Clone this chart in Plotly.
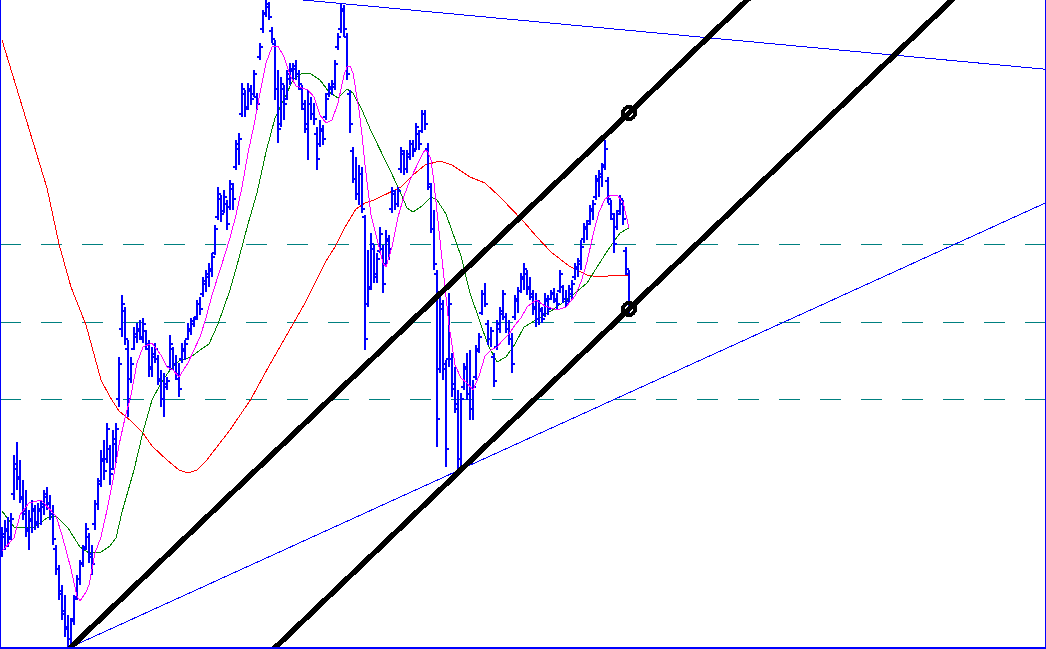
import plotly.graph_objects as go

# ---- OHLC data (bar index 0..209) ----
high = [122,129,132,136,194,207,189,169,159,139,
        149,144,146,149,159,162,154,144,104,84,
        64,54,34,31,54,74,89,104,126,116,
        104,149,171,199,209,226,204,219,226,292,
        354,342,309,292,322,326,329,331,319,309,
        302,306,294,279,276,272,314,302,294,286,
        306,309,326,331,332,349,352,372,379,386,
        396,424,462,454,459,449,469,466,509,516,
        566,559,566,564,579,556,606,639,649,647,
        622,609,579,572,564,579,586,586,589,579,
        564,549,559,552,546,522,529,524,556,566,
        569,589,616,645,644,616,559,502,492,484,
        482,434,399,416,404,396,422,404,419,414,
        462,459,462,502,499,499,509,509,526,519,
        539,539,506,466,439,379,356,349,289,356,
        296,282,259,256,286,296,299,269,304,316,
        359,366,329,322,296,329,342,359,336,329,
        316,354,362,376,386,379,372,359,356,349,
        342,356,354,359,361,356,379,364,359,364,
        369,386,391,409,426,429,444,449,474,479,
        486,509,472,449,436,439,454,449,402,379]
low = [92,99,102,109,149,159,146,129,112,99,
       116,119,121,124,134,139,129,104,74,49,
       29,12,2,2,24,49,64,82,99,86,
       74,119,139,162,169,186,164,179,186,242,
       312,304,232,266,299,306,309,306,299,272,
       272,286,264,242,232,259,279,279,269,252,
       286,289,309,314,322,329,334,352,357,362,
       372,394,429,427,436,419,439,439,479,484,
       532,532,539,544,552,539,589,616,632,629,
       606,549,506,522,529,549,564,569,569,559,
       539,516,489,529,524,479,502,504,529,552,
       554,559,599,616,612,569,516,466,449,444,
       436,299,342,359,366,366,396,356,382,389,
       436,439,442,476,474,476,489,492,499,499,
       516,519,459,416,379,202,276,269,182,282,
       252,236,179,182,259,249,229,229,269,296,
       334,342,304,302,262,299,316,329,316,304,
       276,329,336,356,359,354,349,334,322,324,
       326,332,334,349,346,339,356,346,342,346,
       349,369,372,379,406,409,424,429,449,452,
       462,479,446,429,396,419,434,424,374,332]
open_ = [100,112,118,112,155,180,172,150,138,118,
         128,138,127,138,142,152,146,135,100,80,
         58,38,22,10,30,52,70,86,102,112,
         92,125,145,168,188,190,200,180,205,250,
         320,338,300,270,300,312,318,310,318,300,
         282,292,290,268,250,262,282,300,285,270,
         290,298,310,318,325,332,345,355,365,372,
         378,396,432,450,438,445,442,460,482,500,
         535,555,542,558,555,552,592,620,636,642,
         618,605,560,525,560,550,570,578,580,575,
         560,540,520,545,535,515,505,518,532,555,
         560,562,602,620,638,612,555,498,470,455,
         475,432,345,362,400,372,398,400,385,408,
         440,455,445,480,495,480,492,505,500,515,
         518,535,500,462,420,375,280,340,280,290,
         290,265,245,190,262,282,255,240,272,300,
         336,355,325,310,292,302,320,335,332,320,
         310,332,348,358,370,375,362,352,342,330,
         338,335,348,350,355,348,358,362,350,348,
         355,372,380,385,410,420,428,438,452,468,
         472,484,468,445,430,422,438,445,398,375]
close = [115,120,110,130,185,170,152,135,120,130,
         140,125,140,145,155,145,135,110,80,55,
         35,20,10,28,50,70,85,100,120,95,
         85,145,165,190,178,220,175,210,220,285,
         345,310,250,285,315,320,312,325,305,280,
         295,300,270,250,265,268,305,285,275,260,
         300,305,320,328,330,345,340,368,375,380,
         392,420,455,435,452,425,465,450,505,510,
         560,540,560,550,575,545,602,635,645,632,
         610,560,520,565,545,575,580,583,575,565,
         545,525,545,535,530,490,520,510,550,562,
         565,585,612,640,620,575,525,470,455,475,
         440,310,360,405,375,390,415,365,410,400,
         458,445,458,498,480,495,505,498,522,505,
         535,525,465,420,385,230,345,285,200,345,
         260,240,190,250,280,255,240,262,298,312,
         355,345,310,318,268,325,338,355,320,310,
         285,350,358,372,380,360,355,340,330,340,
         330,350,340,356,350,345,375,350,345,360,
         365,382,388,402,422,425,440,445,470,475,
         482,500,450,435,405,435,450,430,380,340]

# ---- moving averages (read at sample bars) ----
ma_fast_x = [0,4,6,9,13,16,18,20,23,25,26,28,29,31,33,35,37,39,41,43,45,47,50,53,55,57,59,62,64,66,68,70,73,76,78,80,82,84,86,88,90,92,94,96,98,100,102,104,106,108,110,112,114,115,116,117,119,120,121,123,125,127,128,130,132,134,136,138,140,141,142,143,144,146,147,149,151,153,155,157,159,161,163,165,167,169,171,173,175,178,181,185,188,191,193,195,197,199,201,203,205,207,208,209]
ma_fast_y = [98,111,134,146,149,139,133,114,80,53,48,57,64,96,112,139,169,204,231,254,286,302,306,294,282,279,272,286,299,312,331,354,382,411,434,462,496,524,556,586,602,603,592,574,563,561,559,552,534,526,529,546,574,582,583,576,539,514,484,434,409,386,382,402,432,453,469,482,494,499,497,489,466,409,381,324,284,271,266,259,273,293,299,302,309,315,324,331,342,349,343,339,342,353,367,387,414,437,450,454,454,447,434,421]
ma_mid_x = [0,4,7,11,15,18,22,26,29,33,36,38,40,44,47,50,53,56,59,63,66,69,72,76,79,82,85,88,91,94,97,100,103,106,109,112,115,117,120,123,126,129,132,135,137,140,143,145,148,151,153,156,159,162,165,168,171,174,178,183,189,195,199,202,206,209]
ma_mid_y = [138,122,122,122,131,133,121,102,96,97,103,111,137,179,217,249,266,279,288,292,299,305,325,359,391,425,456,497,531,550,569,576,575,569,557,551,560,556,539,518,500,481,462,441,437,443,452,449,435,411,393,356,331,304,287,292,305,322,329,338,351,366,385,399,416,421]
ma_slow_x = [0,3,7,11,15,19,23,28,33,36,39,43,47,50,55,59,62,65,68,76,83,89,96,101,104,108,111,114,118,121,124,128,133,137,141,146,150,156,161,166,170,174,178,183,189,195,199,205,209]
ma_slow_y = [609,579,539,499,461,405,362,324,269,252,238,228,216,203,189,179,176,179,188,219,250,283,319,346,364,388,402,420,440,446,449,455,462,474,484,488,484,472,466,452,440,427,413,397,383,374,372,374,374]

# ---- trend lines (anchor points: bar, price) ----
channel_anchor_a = (23, 2)
channel_anchor_b = (209, 536)
channel_parallel_point = (209, 340)
support_anchors = [(23, 2), (151, 177)]
resistance_anchors = [(88, 652.5), (113, 645.5)]
levels = [405, 327, 250]

BLUE = "#0000ff"
fig = go.Figure()

for lv in levels:
    fig.add_shape(type="line", xref="paper", yref="y", x0=0, x1=1, y0=lv, y1=lv,
                  line=dict(color="#008080", width=1, dash="21px,20px"), layer="below")

def line_through(p, slope, xs=(-5, 360)):
    return list(xs), [p[1] + slope * (x - p[0]) for x in xs]

# moving averages
fig.add_trace(go.Scatter(x=ma_slow_x, y=ma_slow_y, mode="lines", line=dict(color="#ff0000", width=1)))
fig.add_trace(go.Scatter(x=ma_mid_x, y=ma_mid_y, mode="lines", line=dict(color="#008000", width=1)))

# OHLC bars
bx, by = [], []
for i, (o, h, l, c) in enumerate(zip(open_, high, low, close)):
    bx += [i, i, None, i - 1.0, i, None, i, i + 1.0, None]
    by += [l, h, None, o, o, None, c, c, None]
fig.add_trace(go.Scatter(x=bx, y=by, mode="lines", line=dict(color=BLUE, width=2)))

fig.add_trace(go.Scatter(x=ma_fast_x, y=ma_fast_y, mode="lines", line=dict(color="#ff00ff", width=1)))

# support / resistance thin blue lines
s_slope = (support_anchors[1][1] - support_anchors[0][1]) / (support_anchors[1][0] - support_anchors[0][0])
x_, y_ = line_through(support_anchors[0], s_slope)
fig.add_trace(go.Scatter(x=x_, y=y_, mode="lines", line=dict(color=BLUE, width=1)))
r_slope = (resistance_anchors[1][1] - resistance_anchors[0][1]) / (resistance_anchors[1][0] - resistance_anchors[0][0])
x_, y_ = line_through(resistance_anchors[0], r_slope)
fig.add_trace(go.Scatter(x=x_, y=y_, mode="lines", line=dict(color=BLUE, width=1)))

# channel (thick black)
c_slope = (channel_anchor_b[1] - channel_anchor_a[1]) / (channel_anchor_b[0] - channel_anchor_a[0])
x_, y_ = line_through(channel_anchor_a, c_slope)
fig.add_trace(go.Scatter(x=x_, y=y_, mode="lines", line=dict(color="black", width=5.5)))
x_, y_ = line_through(channel_parallel_point, c_slope)
fig.add_trace(go.Scatter(x=x_, y=y_, mode="lines", line=dict(color="black", width=5.5)))
fig.add_trace(go.Scatter(x=[channel_anchor_b[0], channel_parallel_point[0]],
                         y=[channel_anchor_b[1], channel_parallel_point[1]],
                         mode="markers", cliponaxis=False,
                         marker=dict(symbol="circle-open", size=12, color="black", line=dict(width=4))))

# border
for sh in [dict(x0=0, x1=0, y0=0, y1=1), dict(x0=1, x1=1, y0=0, y1=1), dict(x0=0, x1=1, y0=0.0015, y1=0.0015)]:
    fig.add_shape(type="line", xref="paper", yref="paper", line=dict(color=BLUE, width=2), **sh)

fig.update_layout(width=1046, height=649, margin=dict(l=0, r=0, t=0, b=0),
                  paper_bgcolor="white", plot_bgcolor="white", showlegend=False)
fig.update_xaxes(range=[-2/3, 348], visible=False, showgrid=False, zeroline=False)
fig.update_yaxes(range=[0, 649], visible=False, showgrid=False, zeroline=False)

post_js = (
    "document.body.style.margin='0';document.body.style.overflow='hidden';"
    "var st=document.createElement('style');"
    "st.textContent='.js-plotly-plot svg path{shape-rendering:crispEdges;}';"
    "document.head.appendChild(st);"
)
fig.write_html("out.html", config={"displayModeBar": False}, post_script=post_js)
